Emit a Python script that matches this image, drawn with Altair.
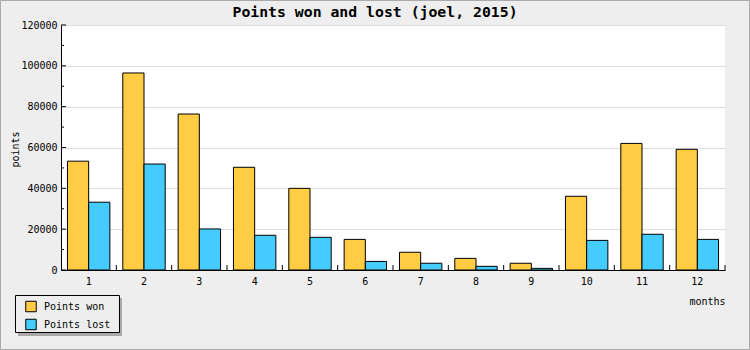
import altair as alt
import pandas as pd

TITLE = "Points won and lost (joel, 2015)"
months = [1, 2, 3, 4, 5, 6, 7, 8, 9, 10, 11, 12]
points_won = [53300, 96500, 76400, 50300, 40000, 15000, 8700, 5700, 3300, 36100, 62000, 59100]
points_lost = [33200, 51900, 20100, 17000, 16000, 4200, 3300, 1800, 800, 14500, 17500, 15000]
series_names = ["Points won", "Points lost"]
series_colors = ["#FFCC44", "#44CCFF"]
y_major = [0, 20000, 40000, 60000, 80000, 100000, 120000]
y_minor = [10000, 30000, 50000, 70000, 90000, 110000]

W, H = 664, 245
MONO = "DejaVu Sans Mono"

rows = []
for m, w, l in zip(months, points_won, points_lost):
    rows.append({"month": m, "series": series_names[0], "value": w})
    rows.append({"month": m, "series": series_names[1], "value": l})
df = pd.DataFrame(rows)
one = pd.DataFrame({"k": [0]})
ydom = alt.Scale(domain=[0, 120000], nice=False, zero=True)
xscale = alt.Scale(paddingInner=0, paddingOuter=0)

x_axis = alt.Axis(
    title="months", labelAngle=0, ticks=False, domain=True, domainColor="black",
    labelFont=MONO, labelFontSize=10, labelColor="black", labelPadding=6,
    titleFont=MONO, titleFontSize=10, titleFontWeight="normal", titleColor="black",
    titleX=W, titleY=31, titleAlign="right", titleBaseline="middle", grid=False,
)
y_axis = alt.Axis(
    title="points", values=y_major, format="d", ticks=False, domain=True, domainColor="black",
    labelFont=MONO, labelFontSize=10, labelColor="black", labelPadding=4,
    grid=True, gridColor="#DDDDDD", gridWidth=1,
    titleFont=MONO, titleFontSize=10, titleFontWeight="normal", titleColor="black",
    titleX=-46, titleY=124, titleAngle=-90, titleAlign="center", titleBaseline="middle",
)

frame = alt.Chart(one).mark_rect(fillOpacity=0, stroke="#AAAAAA", strokeWidth=1).encode(
    x=alt.value(-60.5), x2=alt.value(688.5), y=alt.value(-24.5), y2=alt.value(324.5)
)
shadow = alt.Chart(one).mark_rect(fill="#AAAAAA").encode(
    x=alt.value(-43), x2=alt.value(61), y=alt.value(273), y2=alt.value(311)
)
legbox = alt.Chart(one).mark_rect(fill="#EEEEEE", stroke="black", strokeWidth=1).encode(
    x=alt.value(-45.5), x2=alt.value(58.5), y=alt.value(270.5), y2=alt.value(307.5)
)

bars = alt.Chart(df).mark_bar(stroke="black", strokeWidth=1).encode(
    x=alt.X("month:O", scale=xscale, axis=x_axis),
    xOffset=alt.XOffset("series:N", sort=series_names,
                        scale=alt.Scale(paddingOuter=0.305, paddingInner=0)),
    y=alt.Y("value:Q", scale=ydom, axis=y_axis),
    color=alt.Color(
        "series:N",
        scale=alt.Scale(domain=series_names, range=series_colors),
        legend=alt.Legend(
            title=None, orient="none", legendX=-36, legendY=275.5, padding=0,
            symbolType="square", symbolSize=110, symbolStrokeColor="black",
            symbolStrokeWidth=1, labelFont=MONO, labelFontSize=10, labelColor="black",
            labelOffset=7, rowPadding=2,
        ),
    ),
)

ymaj = alt.Chart(pd.DataFrame({"value": y_major})).mark_rule(color="black").encode(
    y=alt.Y("value:Q", scale=ydom, axis=y_axis), x=alt.value(0), x2=alt.value(5)
)
ymin = alt.Chart(pd.DataFrame({"value": y_minor})).mark_rule(color="black").encode(
    y=alt.Y("value:Q", scale=ydom, axis=y_axis), x=alt.value(0), x2=alt.value(3)
)
xt = alt.Chart(pd.DataFrame({"month": months})).mark_rule(color="black").encode(
    x=alt.X("month:O", bandPosition=1, scale=xscale, axis=x_axis),
    y=alt.value(H - 5), y2=alt.value(H),
)

title = alt.Chart(one).mark_text(
    text=TITLE, font=MONO, fontSize=14.8, fontWeight="bold", align="center",
    baseline="alphabetic", color="black"
).encode(x=alt.value(314), y=alt.value(-8))

chart = alt.layer(frame, shadow, legbox, bars, ymaj, ymin, xt, title).properties(
    width=W, height=H,
    padding={"left": 61, "top": 25, "right": 25, "bottom": 80},
    autosize=alt.AutoSizeParams(type="none"),
    background="#EEEEEE",
).configure_view(stroke=None, fill="white")

chart.save("out.html", embed_options={"renderer": "svg", "actions": False})
